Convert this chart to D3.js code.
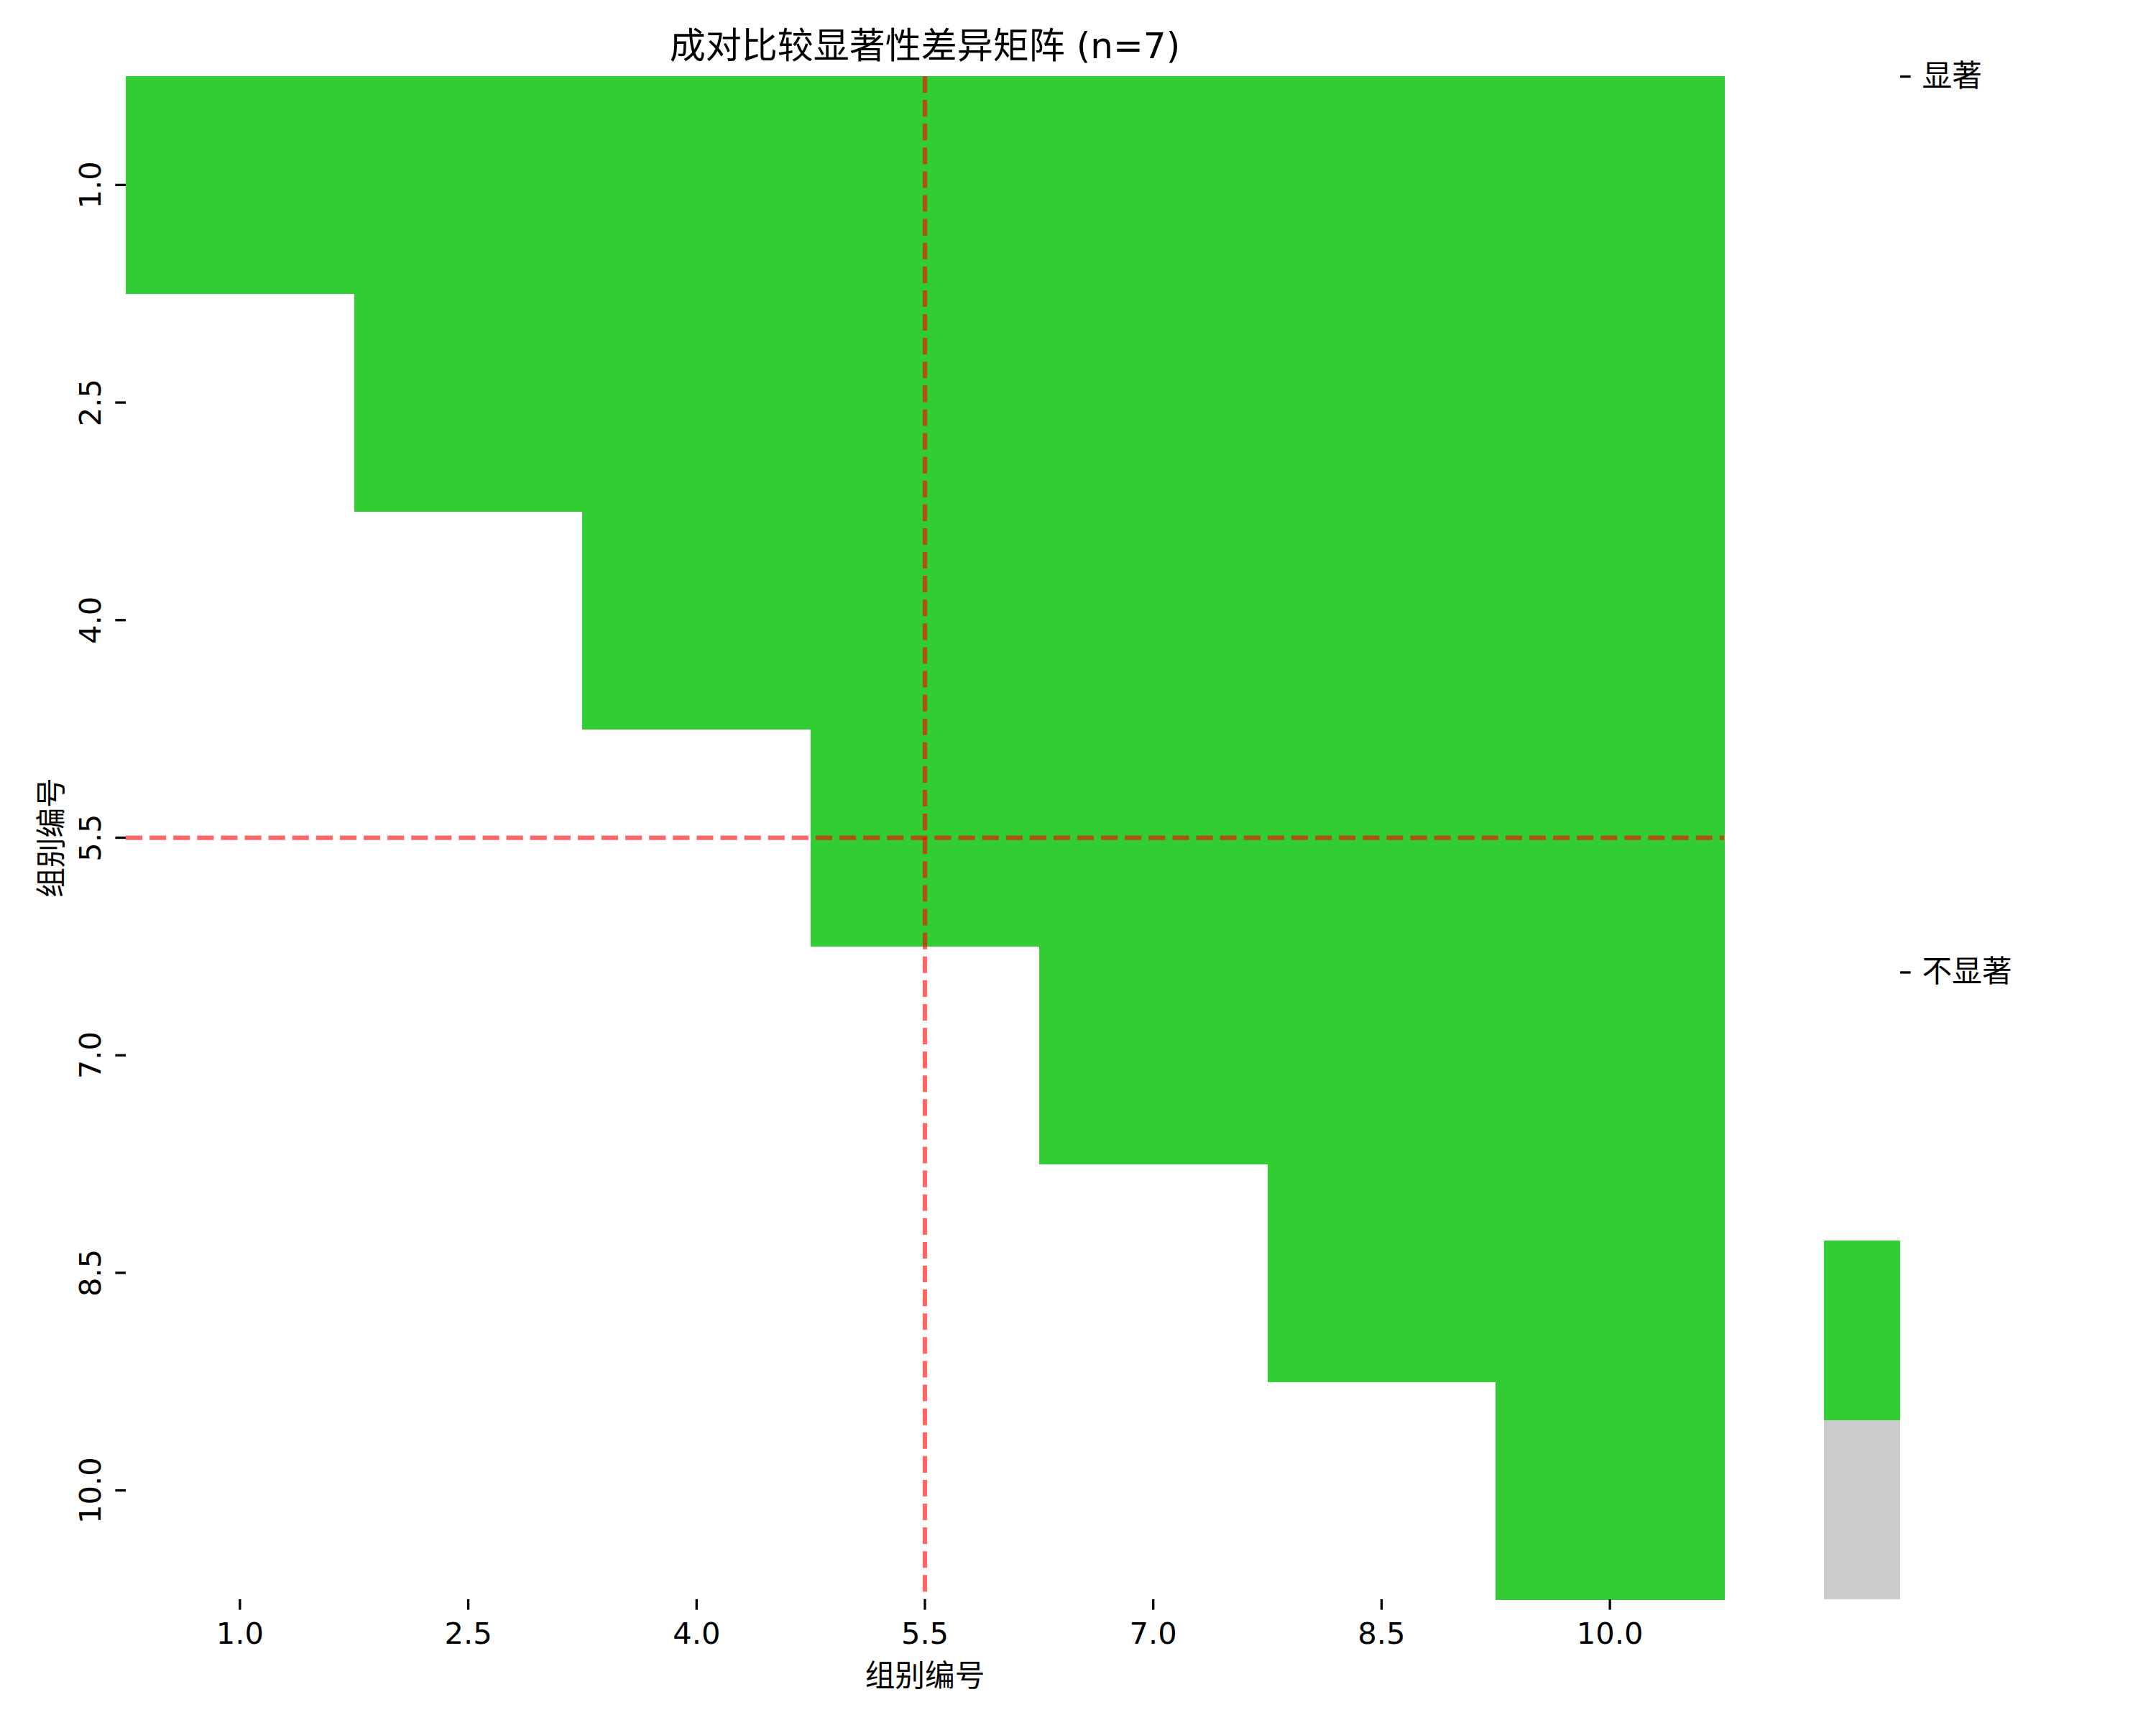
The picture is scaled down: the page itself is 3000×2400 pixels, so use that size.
<!DOCTYPE html>
<html>
<head>
<meta charset="utf-8">
<script src="https://cdn.jsdelivr.net/npm/d3@7"></script>
<style>
  html, body { margin: 0; padding: 0; background: #ffffff; }
  svg { display: block; }
  text { font-family: "DejaVu Sans", "Noto Sans CJK SC", sans-serif; fill: #000; }
</style>
</head>
<body>
<svg id="chart" width="3000" height="2400"></svg>
<script>
// ---- data ----
const titleText = "成对比较显著性差异矩阵 (n=7)";
const xLabelText = "组别编号";
const yLabelText = "组别编号";
const xTickLabels = ["1.0", "2.5", "4.0", "5.5", "7.0", "8.5", "10.0"];
const yTickLabels = ["1.0", "2.5", "4.0", "5.5", "7.0", "8.5", "10.0"];
// 1 = significant, 0 = not significant, null = masked (lower triangle)
const matrixRows = [
  [1, 1, 1, 1, 1, 1, 1],
  [null, 1, 1, 1, 1, 1, 1],
  [null, null, 1, 1, 1, 1, 1],
  [null, null, null, 1, 1, 1, 1],
  [null, null, null, null, 1, 1, 1],
  [null, null, null, null, null, 1, 1],
  [null, null, null, null, null, null, 1]
];
const refX = "5.5";
const refY = "5.5";
const cbarDomain = [0.9, 1.75];
const cbarSegmentStarts = [0.9, 1.0];
const cbarSegmentEnds = [1.0, 1.1];
const cbarSegmentValues = [0, 1];
const cbarTickValues = [1.25, 1.75];
const cbarTickLabels = ["不显著", "显著"];

// ---- layout ----
const svg = d3.select("#chart");
const plot = { left: 175, right: 2399, top: 106, bottom: 2225 };
const cbar = { left: 2538, right: 2644, top: 106, bottom: 2225 };
const tickLen = 14.6, tickW = 3.33, fs = 41.67;

const color = d3.scaleOrdinal().domain([0, 1]).range(["#cccccc", "#32cd32"]);

const x = d3.scaleBand().domain(xTickLabels).range([plot.left, plot.right]).padding(0);
const y = d3.scaleBand().domain(yTickLabels).range([plot.top, plot.bottom]).padding(0);

const cells = [];
matrixRows.forEach((row, i) => row.forEach((v, j) => {
  if (v !== null) cells.push({ r: yTickLabels[i], c: xTickLabels[j], v });
}));

svg.append("g").selectAll("rect").data(cells).join("rect")
  .attr("x", d => x(d.c))
  .attr("y", d => y(d.r))
  .attr("width", x.bandwidth() + 0.5)
  .attr("height", y.bandwidth() + 0.5)
  .attr("fill", d => color(d.v))
  .attr("shape-rendering", "crispEdges");

// reference lines
const dash = "23.1,10";
svg.append("line")
  .attr("x1", x(refX) + x.bandwidth() / 2).attr("x2", x(refX) + x.bandwidth() / 2)
  .attr("y1", plot.top).attr("y2", plot.bottom)
  .attr("stroke", "red").attr("stroke-opacity", 0.6)
  .attr("stroke-width", 6.25).attr("stroke-dasharray", dash);
svg.append("line")
  .attr("x1", plot.left).attr("x2", plot.right)
  .attr("y1", y(refY) + y.bandwidth() / 2).attr("y2", y(refY) + y.bandwidth() / 2)
  .attr("stroke", "red").attr("stroke-opacity", 0.6)
  .attr("stroke-width", 6.25).attr("stroke-dasharray", dash);

// x axis
const xAxis = d3.axisBottom(x).tickSize(tickLen).tickPadding(14.6);
const gx = svg.append("g").attr("transform", `translate(0,${plot.bottom})`).call(xAxis);
gx.select(".domain").remove();
gx.selectAll(".tick line").attr("stroke", "#000").attr("stroke-width", tickW);
gx.selectAll(".tick text").attr("font-size", fs).attr("dy", null)
  .attr("y", 0).attr("transform", "translate(0,62)")
  .style("font-family", '"DejaVu Sans", sans-serif');

// y axis
const yAxis = d3.axisLeft(y).tickSize(tickLen);
const gy = svg.append("g").attr("transform", `translate(${plot.left},0)`).call(yAxis);
gy.select(".domain").remove();
gy.selectAll(".tick line").attr("stroke", "#000").attr("stroke-width", tickW);
gy.selectAll(".tick text").attr("font-size", fs)
  .attr("x", 0).attr("dy", null).attr("text-anchor", "middle")
  .attr("transform", "translate(-35,0) rotate(-90)")
  .style("font-family", '"DejaVu Sans", sans-serif');

// labels
svg.append("text").attr("x", (plot.left + plot.right) / 2).attr("y", 2346)
  .attr("text-anchor", "middle").attr("font-size", fs).text(xLabelText);
svg.append("text").attr("transform", `translate(86,${(plot.top + plot.bottom) / 2}) rotate(-90)`)
  .attr("text-anchor", "middle").attr("font-size", fs).text(yLabelText);
svg.append("text").attr("x", (plot.left + plot.right) / 2).attr("y", 81)
  .attr("text-anchor", "middle").attr("font-size", 50).text(titleText);

// colorbar
const cy = d3.scaleLinear().domain(cbarDomain).range([cbar.bottom, cbar.top]);
svg.append("g").selectAll("rect").data(cbarSegmentValues).join("rect")
  .attr("x", cbar.left)
  .attr("width", cbar.right - cbar.left)
  .attr("y", (d, i) => cy(cbarSegmentEnds[i]))
  .attr("height", (d, i) => cy(cbarSegmentStarts[i]) - cy(cbarSegmentEnds[i]))
  .attr("fill", d => color(d))
  .attr("shape-rendering", "crispEdges");
const cAxis = d3.axisRight(cy).tickValues(cbarTickValues)
  .tickFormat((d, i) => cbarTickLabels[i]).tickSize(tickLen).tickPadding(16);
const gc = svg.append("g").attr("transform", `translate(${cbar.right},0)`).call(cAxis);
gc.select(".domain").remove();
gc.selectAll(".tick line").attr("stroke", "#000").attr("stroke-width", tickW);
gc.selectAll(".tick text").attr("font-size", fs);
</script>
</body>
</html>
